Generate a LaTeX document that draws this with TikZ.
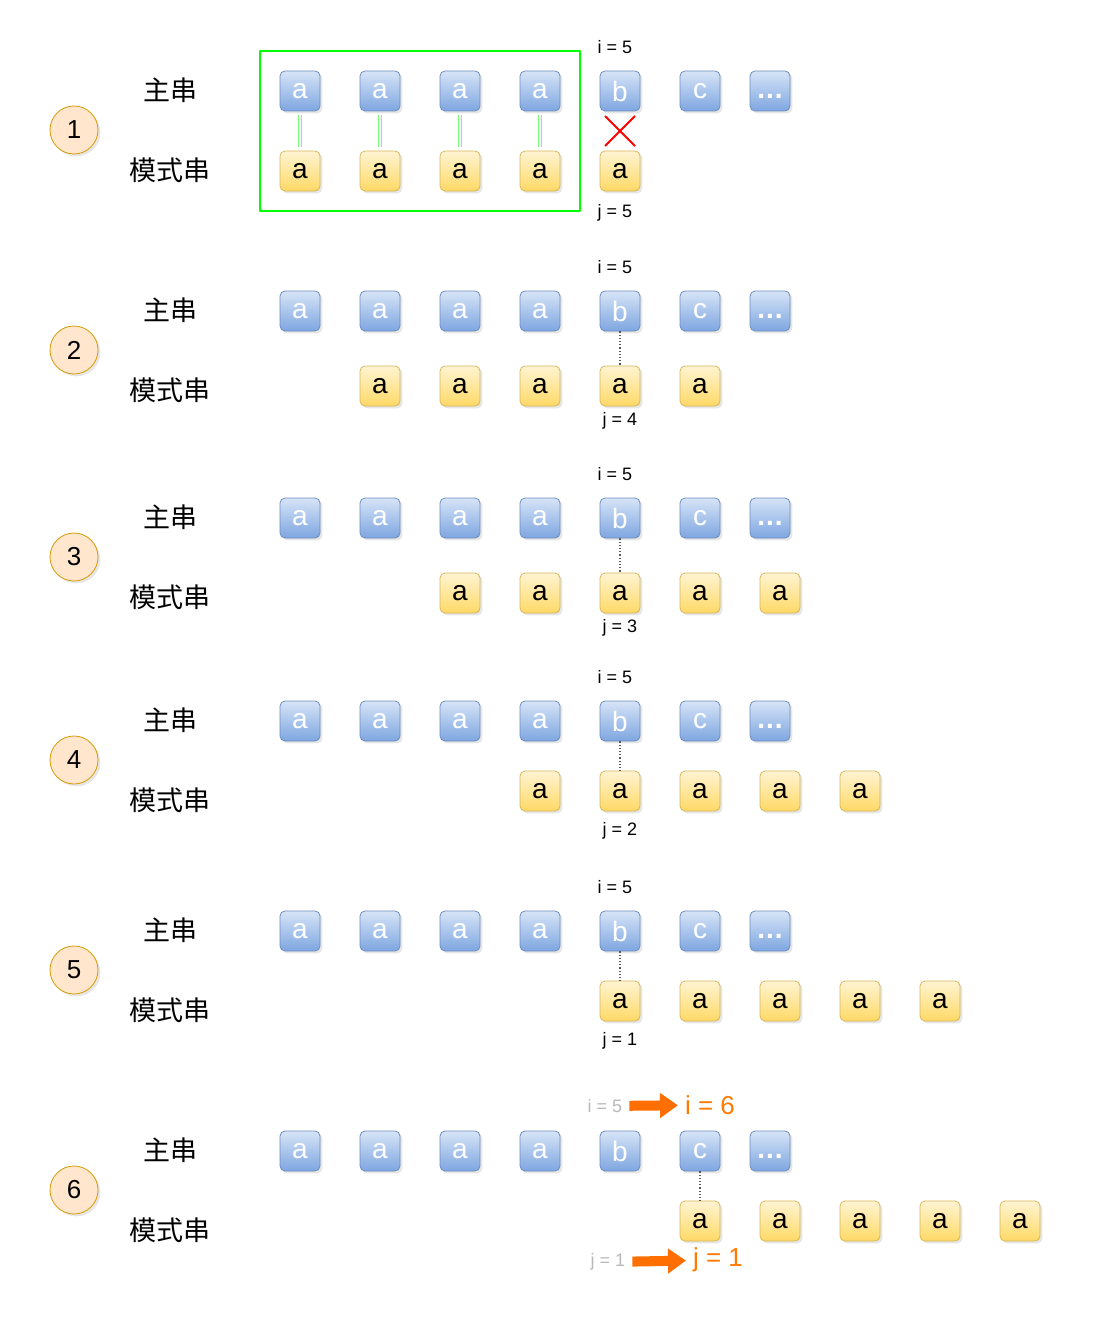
\documentclass[tikz,border=0pt]{standalone}
\usepackage{fontspec}
\setmainfont{Liberation Sans}
\newfontfamily\cjk{Noto Sans CJK SC}
\usetikzlibrary{positioning,calc,fit,shadows,arrows.meta}

\definecolor{blueedge}{HTML}{6C8EBF}
\definecolor{bluetop}{HTML}{D6E4F7}
\definecolor{bluebot}{HTML}{7EA6E0}
\definecolor{yellowedge}{HTML}{D6B656}
\definecolor{yellowtop}{HTML}{FFF4D2}
\definecolor{yellowbot}{HTML}{FFD966}
\definecolor{circlefill}{HTML}{FFE6CC}
\definecolor{circleedge}{HTML}{D79B00}
\definecolor{hiorange}{HTML}{FF7A00}
\definecolor{arrowedge}{HTML}{D05000}

\begin{document}
\begin{tikzpicture}[x=0.5pt, y=-0.5pt, line join=round,
    charbox/.style={rounded corners=2.5pt, minimum size=20pt, inner sep=0pt,
      font=\fontsize{14}{14}\selectfont,
      drop shadow={opacity=0.2, shadow xshift=1.2pt, shadow yshift=-1.2pt}},
    mainchar/.style={charbox, draw=blueedge, top color=bluetop, bottom color=bluebot, text=white},
    patchar/.style={charbox, draw=yellowedge, top color=yellowtop, bottom color=yellowbot, text=black},
    stepnum/.style={circle, draw=circleedge, fill=circlefill, minimum size=24pt, inner sep=0pt,
      font=\fontsize{13}{13}\selectfont,
      drop shadow={opacity=0.2, shadow xshift=1.2pt, shadow yshift=-1.2pt}},
    rowlabel/.style={font=\cjk\fontsize{13.5}{13.5}\selectfont},
    idx/.style={font=\fontsize{9}{9}\selectfont},
    oldidx/.style={idx, text=black!28},
    newidx/.style={font=\fontsize{13}{13}\selectfont, text=hiorange},
    aligned/.style={densely dotted, black!65, line width=0.6pt},
    matchline/.style={draw=green!55, double=white, double distance=1.2pt, line width=0.5pt},
    bump/.style={-{Triangle[length=9pt, width=12pt]}, line width=5pt, draw=hiorange!90!red}
  ]

  \useasboundingbox (0,0) rectangle (1112,1322);

  % One row per step: number, labels, main string and pattern
  \foreach \r/\yc/\yp/\px in {1/130/171/300, 2/350/386/380, 3/557/593/460,
                              4/760/791/540, 5/970/1001/620, 6/1190/1221/700} {
    \node[stepnum] (n\r) at (74,\yc) {\r};
    \node[rowlabel] (ml\r) at (170,\yc-40) {主串};
    \node[rowlabel] (pl\r) at (170,\yc+40) {模式串};

    % Main string
    \foreach \t [count=\k] in {a,a,a,a,b,c} {
      \node[mainchar] (m\r-\k) at (220+80*\k,\yc-39) {\t};
    }
    \node[mainchar] (m\r-7) at (770,\yc-39) {\vphantom{a}\textbf{.\kern0.5pt.\kern0.5pt.}};

    % Pattern
    \foreach \k in {0,...,4} {
      \node[patchar] (p\r-\k) at (\px+80*\k,\yp) {a};
    }
  }

  % Index labels
  \foreach \r in {1,...,5} {
    \node[idx] (i\r) at ($(m\r-5)+(-5,-44)$) {i = 5};
  }
  \node[idx] (j1) at (615,213) {j = 5};
  \foreach \r/\j/\y in {2/4/421, 3/3/628, 4/2/831, 5/1/1041} {
    \node[idx] (j\r) at (620,\y) {j = \j};
  }

  % Step 1: matched part and the mismatch
  \foreach \k/\q in {1/0, 2/1, 3/2, 4/3} {
    \draw[matchline] ([yshift=-2pt]m1-\k.south) -- ([yshift=2pt]p1-\q.north);
  }
  \node[draw=green, line width=1pt, fit=(m1-1)(p1-3), inner sep=10pt] (matched) {};
  \coordinate (miss) at ($(m1-5.south)!0.5!(p1-4.north)$);
  \draw[red, line width=0.9pt] ($(miss)+(-15,-15)$) -- ($(miss)+(15,15)$)
                               ($(miss)+(-15,15)$) -- ($(miss)+(15,-15)$);

  % Steps 2-6: alignment of the compared characters
  \draw[aligned] (m2-5) -- (p2-3);
  \draw[aligned] (m3-5) -- (p3-2);
  \draw[aligned] (m4-5) -- (p4-1);
  \draw[aligned] (m5-5) -- (p5-0);
  \draw[aligned] (m6-6) -- (p6-0);

  % Step 6: indices move on
  \node[oldidx] (iold) at (605,1106) {i = 5};
  \node[newidx] (inew) at (710,1105) {i = 6};
  \node[oldidx] (jold) at (608,1262) {j = 1};
  \node[newidx] (jnew) at (718,1260) {j = 1};
  \draw[bump] (iold) -- (inew);
  \draw[bump] (jold) -- (jnew);

\end{tikzpicture}
\end{document}
